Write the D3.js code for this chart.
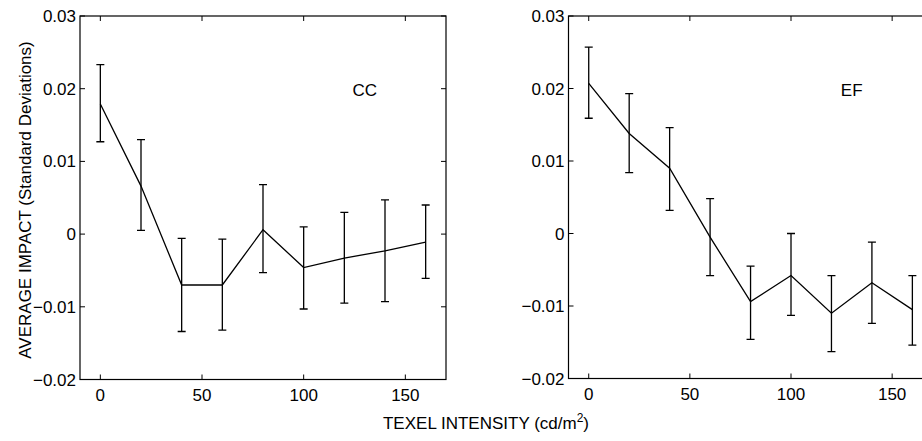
<!DOCTYPE html>
<html>
<head>
<meta charset="utf-8">
<script src="https://cdn.jsdelivr.net/npm/d3@7"></script>
<style>
  body { margin: 0; background: #fff; }
  svg { display: block; font-family: "Liberation Sans", Arial, sans-serif; }
</style>
</head>
<body>
<svg id="chart" width="922" height="441"></svg>
<script>
// texel intensity (cd/m^2)
const intensity = [0, 20, 40, 60, 80, 100, 120, 140, 160];

// CC panel
const ccMean  = [0.0179, 0.0066, -0.0070, -0.0070, 0.0006, -0.0046, -0.0033, -0.0023, -0.0011];
const ccUpper = [0.0233, 0.0130, -0.0006, -0.0007, 0.0068, 0.0010, 0.0030, 0.0047, 0.0040];
const ccLower = [0.0127, 0.0005, -0.0134, -0.0132, -0.0053, -0.0103, -0.0095, -0.0093, -0.0061];

// EF panel
const efMean  = [0.0207, 0.0138, 0.0090, -0.0005, -0.0094, -0.0058, -0.0110, -0.0068, -0.0105];
const efUpper = [0.0257, 0.0193, 0.0146, 0.0048, -0.0045, 0.0000, -0.0058, -0.0012, -0.0058];
const efLower = [0.0159, 0.0084, 0.0032, -0.0058, -0.0146, -0.0113, -0.0163, -0.0124, -0.0154];

const xTicks = [0, 50, 100, 150];
const yTicks = [-0.02, -0.01, 0, 0.01, 0.02, 0.03];

const svg = d3.select("#chart");
const fmtY = d => d === 0 ? "0" : d3.format(".2f")(d).replace("-", "\u2212");

function panel(name, mean, upper, lower, box) {
    const x = d3.scaleLinear().domain([-10, 170]).range([box.left, box.right]);
    const y = d3.scaleLinear().domain([-0.02, 0.03]).range([box.bottom, box.top]);
    const g = svg.append("g");
    const tick = 5;

    // frame
    g.append("rect")
        .attr("x", x(-10)).attr("y", y(0.03))
        .attr("width", x(170) - x(-10)).attr("height", y(-0.02) - y(0.03))
        .attr("fill", "none").attr("stroke", "#000").attr("stroke-width", 1.2);

    // inward ticks on all four sides
    g.selectAll(".xt").data(xTicks).enter().append("path")
        .attr("d", d => `M${x(d)},${y(-0.02)}v${-tick}M${x(d)},${y(0.03)}v${tick}`)
        .attr("stroke", "#000").attr("stroke-width", 1);
    g.selectAll(".yt").data(yTicks).enter().append("path")
        .attr("d", d => `M${x(-10)},${y(d)}h${tick}M${x(170)},${y(d)}h${-tick}`)
        .attr("stroke", "#000").attr("stroke-width", 1);

    g.selectAll(".xl").data(xTicks).enter().append("text")
        .attr("x", d => x(d)).attr("y", y(-0.02) + 21)
        .attr("text-anchor", "middle").style("font-size", "17px")
        .text(d => d);
    g.selectAll(".yl").data(yTicks).enter().append("text")
        .attr("x", x(-10) - 4).attr("y", d => y(d) + 6)
        .attr("text-anchor", "end").style("font-size", "17px")
        .text(fmtY);

    // error bars
    const cap = 4;
    intensity.forEach((v, i) => {
        g.append("path")
            .attr("d", `M${x(v)},${y(upper[i])}V${y(lower[i])}` +
                       `M${x(v) - cap},${y(upper[i])}h${2 * cap}` +
                       `M${x(v) - cap},${y(lower[i])}h${2 * cap}`)
            .attr("fill", "none").attr("stroke", "#000").attr("stroke-width", 1.3);
    });

    // mean line
    g.append("path")
        .datum(intensity.map((v, i) => [v, mean[i]]))
        .attr("d", d3.line().x(d => x(d[0])).y(d => y(d[1])))
        .attr("fill", "none").attr("stroke", "#000").attr("stroke-width", 1.3);

    g.append("text")
        .attr("x", x(130)).attr("y", y(0.019))
        .attr("text-anchor", "middle").style("font-size", "17px")
        .text(name);
}

panel("CC", ccMean, ccUpper, ccLower, { left: 80, right: 446, top: 16, bottom: 379.5 });
panel("EF", efMean, efUpper, efLower, { left: 568.5, right: 932.6, top: 16, bottom: 378.5 });

svg.append("text")
    .attr("transform", "translate(31,200) rotate(-90)")
    .attr("text-anchor", "middle").style("font-size", "17px")
    .text("AVERAGE IMPACT (Standard Deviations)");

const xl = svg.append("text")
    .attr("x", 486).attr("y", 429)
    .attr("text-anchor", "middle").style("font-size", "17px");
xl.append("tspan").text("TEXEL INTENSITY (cd/m");
xl.append("tspan").attr("dy", -7).style("font-size", "12px").text("2");
xl.append("tspan").attr("dy", 7).text(")");
</script>
</body>
</html>
